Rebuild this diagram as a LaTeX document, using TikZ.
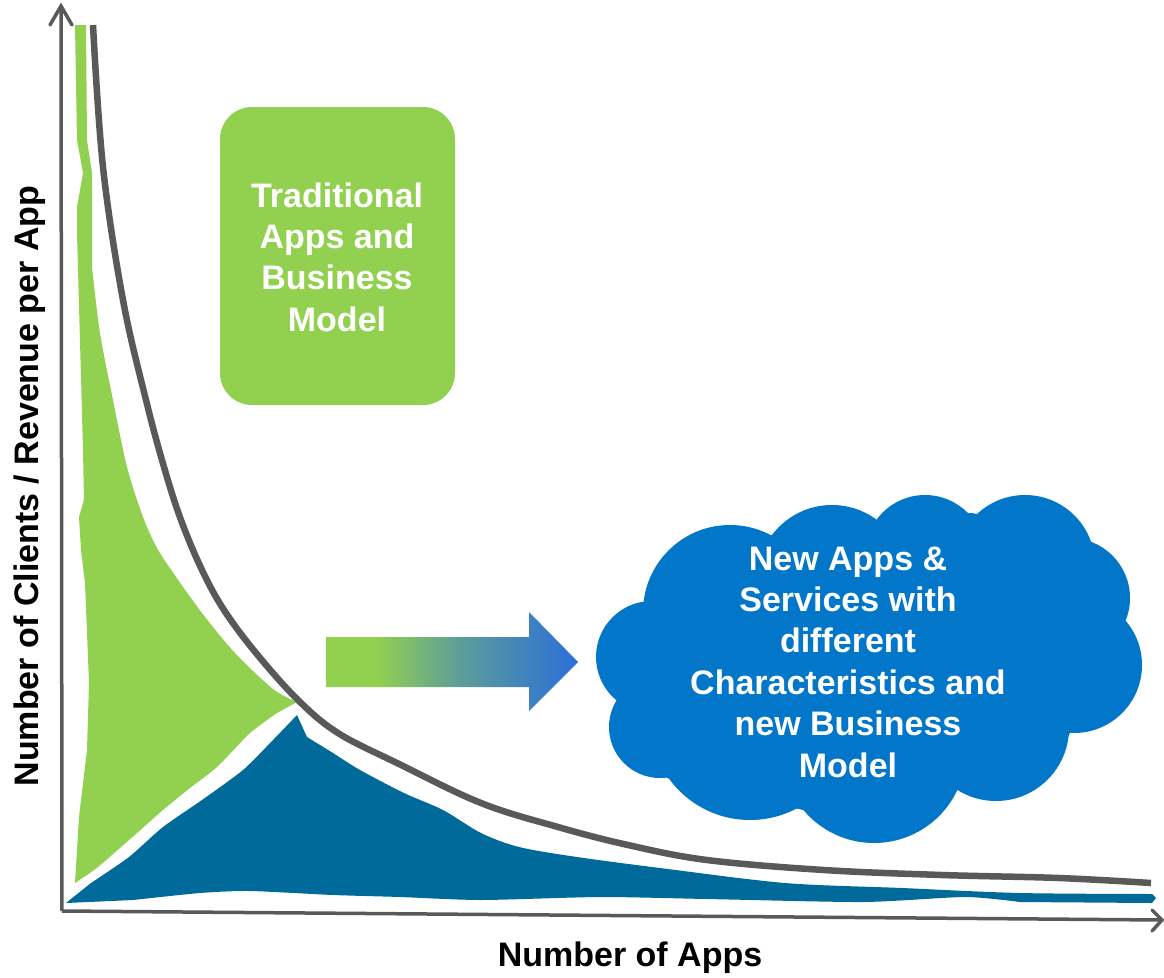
\documentclass[tikz,border=0pt]{standalone}
\usepackage{fontspec}
\setmainfont{Liberation Sans}
\definecolor{agreen}{HTML}{92D050}
\definecolor{ablue}{HTML}{006A9A}
\definecolor{agray}{HTML}{595959}
\definecolor{cloudblue}{HTML}{0277C9}
\definecolor{arrowblue}{HTML}{2B6FDA}
\definecolor{arrowteal}{HTML}{5B9C9A}
\pgfdeclarehorizontalshading{arrowshade}{100bp}{color(0bp)=(agreen); color(25bp)=(agreen); color(35bp)=(agreen); color(52bp)=(arrowteal); color(75bp)=(arrowblue); color(100bp)=(arrowblue)}
\tikzset{
  axisline/.style={draw=agray, line width=3.5pt, line join=miter},
  bigtext/.style={font=\bfseries\fontsize{34}{41.4}\selectfont},
  whitetext/.style={bigtext, text=white, align=center},
  lobe/.style={fill=cloudblue, draw=none},
}
\begin{document}
\begin{tikzpicture}[x=1pt,y=-1pt]
\useasboundingbox (0,0) rectangle (1164,977);

% green region
\fill[agreen] (75,25) -- (86,25) -- (87,140) -- (92,173)
 -- plot[smooth, tension=0.5] coordinates {(92,267) (100,333) (113,400) (127,467) (143,517) (157,548) (174,574) (202,613) (235,653) (273,689) (297,702)}
 -- plot[smooth, tension=0.4] coordinates {(277,713) (250,733) (217,767) (190,788) (163,810) (137,833) (98,867) (75,883)}
 -- (79,817) -- (87,750) -- (89,683) -- (85,583) -- (81,550) -- (79,517) -- (84,500) -- (83,450) -- (77,233) -- (77,207) -- (83,173) -- (77,140) -- cycle;

% blue region
\fill[ablue] (66,903)
 -- plot[smooth, tension=0.4] coordinates {(91,883) (129,857) (163,827) (202,800) (243,770) (273,740) (297,715)}
 -- plot[smooth, tension=0.5] coordinates {(307,737) (333,753) (360,770) (404,793) (443,810) (481,833) (519,847) (577,857) (660,868) (785,883) (902,888) (1020,893) (1152,894)}
 -- (1156,898) -- (1152,903)
 -- plot[smooth, tension=0.4] coordinates {(1020,902) (965,897) (863,902) (707,899) (600,897) (481,900) (400,897) (333,895) (250,891) (200,893) (133,900)} -- cycle;

% gray curve
\draw[agray, line width=6.5pt] plot[smooth, tension=0.6] coordinates {(93,25) (103,167) (123,300) (146,400) (164,467) (181,520) (202,570) (224,610) (256,653) (298,700) (338,733) (397,763) (481,803) (558,827) (628,845) (707,860) (824,870) (942,875) (1059,878) (1151,883)};

% axes
\coordinate (origin) at (62,911);
\coordinate (ytip) at (61,6);
\coordinate (xtip) at (1162,920);
\draw[axisline] (origin) -- (ytip);
\draw[axisline] (origin) -- (xtip);
\draw[axisline, line cap=round] (50,25) -- (ytip) -- (72,25);
\draw[axisline, line cap=round] (1152,910) -- (xtip) -- (1152,931);

% axis labels
\node[bigtext, rotate=90] (ylab) at (30,486) {Number of Clients / Revenue per App};
\node[bigtext] (xlab) at (630,958) {Number of Apps};

% traditional box
\node[fill=agreen, rounded corners=32pt, minimum width=235pt, minimum height=298pt, inner sep=0pt] (tradbox) at (337.5,256) {};
\node[whitetext] (trad) at (337,257) {Traditional\\Apps and\\Business\\Model};

% gradient arrow
\shade[shading=arrowshade] (326,637) -- (529,637) -- (529,612) -- (578,662) -- (529,711) -- (529,687) -- (326,687) -- cycle;

% cloud
\fill[cloudblue] (645,610) -- (772,535) -- (877,520) -- (972,513) -- (1078,538) -- (1125,617) -- (1068,737) -- (957,790) -- (803,810) -- (667,778) -- (620,700) -- cycle;
\fill[lobe] (730,612) circle[radius=87];
\fill[lobe] (832,580) circle[radius=75];
\fill[lobe] (925,555) circle[radius=60];
\fill[lobe] (1025,565) circle[radius=70];
\fill[lobe] (1070,598) circle[radius=60];
\fill[lobe] (1074,665) circle[radius=68];
\fill[lobe] (996,728) circle[radius=73];
\fill[lobe] (874,751) circle[radius=92];
\fill[lobe] (750,720) circle[radius=100];
\fill[lobe] (660,727) circle[radius=51];
\fill[lobe] (652,657) circle[radius=56];
\node[whitetext] (newapps) at (848,662) {New Apps \&\\Services with\\different\\Characteristics and\\new Business\\Model};
\end{tikzpicture}
\end{document}
